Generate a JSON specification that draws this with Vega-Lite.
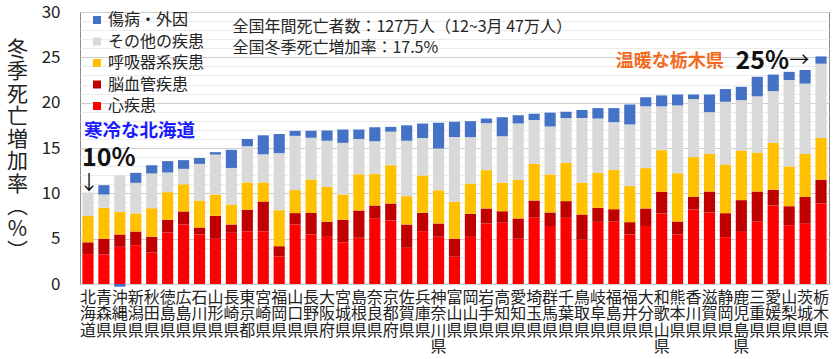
{
  "$schema": "https://vega.github.io/schema/vega-lite/v6.json",
  "width": 749,
  "height": 272,
  "autosize": {"type": "none"},
  "padding": {"left": 80, "top": 12, "right": 4, "bottom": 75},
  "background": "white",
  "config": {
    "font": "Noto Sans CJK JP",
    "view": {"stroke": "#8c8c8c", "strokeWidth": 1}
  },
  "datasets": {
    "rates": [
      {"pref": "北海道", "心疾患": 3.3, "脳血管疾患": 1.3, "呼吸器系疾患": 2.9, "その他の疾患": 2.6, "傷病・外因": 0.0},
      {"pref": "青森県", "心疾患": 3.26, "脳血管疾患": 1.72, "呼吸器系疾患": 3.42, "その他の疾患": 1.47, "傷病・外因": 1.03},
      {"pref": "沖縄県", "心疾患": 4.1, "脳血管疾患": 1.36, "呼吸器系疾患": 2.5, "その他の疾患": 4.04, "傷病・外因": -0.3},
      {"pref": "新潟県", "心疾患": 4.28, "脳血管疾患": 1.51, "呼吸器系疾患": 1.99, "その他の疾患": 3.38, "傷病・外因": 1.1},
      {"pref": "秋田県", "心疾患": 3.47, "脳血管疾患": 1.73, "呼吸器系疾患": 3.16, "その他の疾患": 3.83, "傷病・外因": 0.91},
      {"pref": "徳島県", "心疾患": 5.68, "脳血管疾患": 1.4, "呼吸器系疾患": 3.05, "その他の疾患": 2.17, "傷病・外因": 1.25},
      {"pref": "広島県", "心疾患": 6.56, "脳血管疾患": 1.44, "呼吸器系疾患": 3.0, "その他の疾患": 1.7, "傷病・外因": 0.96},
      {"pref": "石川県", "心疾患": 5.46, "脳血管疾患": 0.77, "呼吸器系疾患": 2.98, "その他の疾患": 4.04, "傷病・外因": 0.65},
      {"pref": "山形県", "心疾患": 4.98, "脳血管疾患": 2.54, "呼吸器系疾患": 2.35, "その他の疾患": 4.41, "傷病・外因": 0.26},
      {"pref": "長崎県", "心疾患": 5.65, "脳血管疾患": 0.91, "呼吸器系疾患": 2.21, "その他の疾患": 4.03, "傷病・外因": 2.0},
      {"pref": "東京都", "心疾患": 5.81, "脳血管疾患": 2.39, "呼吸器系疾患": 3.0, "その他の疾患": 4.0, "傷病・外因": 0.8},
      {"pref": "宮崎県", "心疾患": 5.81, "脳血管疾患": 3.29, "呼吸器系疾患": 2.1, "その他の疾患": 3.1, "傷病・外因": 2.1},
      {"pref": "福岡県", "心疾患": 3.05, "脳血管疾患": 1.12, "呼吸器系疾患": 3.97, "その他の疾患": 6.29, "傷病・外因": 2.11},
      {"pref": "山口県", "心疾患": 6.56, "脳血管疾患": 1.26, "呼吸器系疾患": 2.54, "その他の疾患": 5.98, "傷病・外因": 0.55},
      {"pref": "長野県", "心疾患": 5.46, "脳血管疾患": 2.37, "呼吸器系疾患": 3.7, "その他の疾患": 4.6, "傷病・外因": 0.77},
      {"pref": "大阪府", "心疾患": 5.2, "脳血管疾患": 1.66, "呼吸器系疾患": 3.84, "その他の疾患": 5.1, "傷病・外因": 1.13},
      {"pref": "宮城県", "心疾患": 4.6, "脳血管疾患": 2.48, "呼吸器系疾患": 2.79, "その他の疾患": 5.7, "傷病・外因": 1.47},
      {"pref": "島根県", "心疾患": 5.1, "脳血管疾患": 3.0, "呼吸器系疾患": 4.0, "その他の疾患": 3.9, "傷病・外因": 1.04},
      {"pref": "奈良県", "心疾患": 7.19, "脳血管疾患": 1.47, "呼吸器系疾患": 3.49, "その他の疾患": 3.6, "傷病・外因": 1.55},
      {"pref": "京都府", "心疾患": 7.0, "脳血管疾患": 1.88, "呼吸器系疾患": 4.22, "その他の疾患": 3.7, "傷病・外因": 0.53},
      {"pref": "佐賀県", "心疾患": 3.99, "脳血管疾患": 2.57, "呼吸器系疾患": 3.13, "その他の疾患": 6.11, "傷病・外因": 1.7},
      {"pref": "兵庫県", "心疾患": 5.83, "脳血管疾患": 2.02, "呼吸器系疾患": 4.12, "その他の疾患": 4.13, "傷病・外因": 1.6},
      {"pref": "神奈川県", "心疾患": 5.2, "脳血管疾患": 1.47, "呼吸器系疾患": 3.68, "その他の疾患": 4.6, "傷病・外因": 2.83},
      {"pref": "富山県", "心疾患": 3.0, "脳血管疾患": 2.0, "呼吸器系疾患": 4.06, "その他の疾患": 7.14, "傷病・外因": 1.7},
      {"pref": "岡山県", "心疾患": 5.2, "脳血管疾患": 2.54, "呼吸器系疾患": 3.34, "その他の疾患": 5.12, "傷病・外因": 1.76},
      {"pref": "岩手県", "心疾患": 6.67, "脳血管疾患": 1.66, "呼吸器系疾患": 4.23, "その他の疾患": 5.18, "傷病・外因": 0.51},
      {"pref": "高知県", "心疾患": 6.75, "脳血管疾患": 1.28, "呼吸器系疾患": 3.13, "その他の疾患": 5.14, "傷病・外因": 2.1},
      {"pref": "愛知県", "心疾患": 5.0, "脳血管疾患": 2.22, "呼吸器系疾患": 4.27, "その他の疾患": 6.21, "傷病・外因": 0.9},
      {"pref": "埼玉県", "心疾患": 7.3, "脳血管疾患": 1.9, "呼吸器系疾患": 4.05, "その他の疾患": 4.85, "傷病・外因": 0.67},
      {"pref": "群馬県", "心疾患": 6.4, "脳血管疾患": 1.49, "呼吸器系疾患": 4.19, "その他の疾患": 5.29, "傷病・外因": 1.53},
      {"pref": "千葉県", "心疾患": 7.3, "脳血管疾患": 1.84, "呼吸器系疾患": 4.23, "その他の疾患": 4.93, "傷病・外因": 0.7},
      {"pref": "鳥取県", "心疾患": 4.87, "脳血管疾患": 2.8, "呼吸器系疾患": 3.49, "その他の疾患": 7.14, "傷病・外因": 0.9},
      {"pref": "岐阜県", "心疾患": 6.86, "脳血管疾患": 1.54, "呼吸器系疾患": 3.86, "その他の疾患": 5.99, "傷病・外因": 1.15},
      {"pref": "福島県", "心疾患": 6.89, "脳血管疾患": 1.36, "呼吸器系疾患": 4.35, "その他の疾患": 5.25, "傷病・外因": 1.55},
      {"pref": "福井県", "心疾患": 5.46, "脳血管疾患": 1.36, "呼吸器系疾患": 3.98, "その他の疾患": 6.8, "傷病・外因": 2.2},
      {"pref": "大分県", "心疾患": 6.4, "脳血管疾患": 1.93, "呼吸器系疾患": 4.45, "その他の疾患": 6.82, "傷病・外因": 1.0},
      {"pref": "和歌山県", "心疾患": 7.78, "脳血管疾患": 2.39, "呼吸器系疾患": 4.59, "その他の疾患": 4.84, "傷病・外因": 1.2},
      {"pref": "熊本県", "心疾患": 5.46, "脳血管疾患": 1.43, "呼吸器系疾患": 5.33, "その他の疾患": 7.48, "傷病・外因": 1.2},
      {"pref": "香川県", "心疾患": 8.2, "脳血管疾患": 1.4, "呼吸器系疾患": 4.4, "その他の疾患": 6.4, "傷病・外因": 0.5},
      {"pref": "滋賀県", "心疾患": 7.89, "脳血管疾患": 2.31, "呼吸器系疾患": 4.15, "その他の疾患": 4.6, "傷病・外因": 1.95},
      {"pref": "静岡県", "心疾患": 5.17, "脳血管疾患": 2.64, "呼吸器系疾患": 5.37, "その他の疾患": 6.92, "傷病・外因": 1.4},
      {"pref": "鹿児島県", "心疾患": 5.75, "脳血管疾患": 3.5, "呼吸器系疾患": 5.47, "その他の疾患": 5.56, "傷病・外因": 1.47},
      {"pref": "三重県", "心疾患": 6.89, "脳血管疾患": 3.31, "呼吸器系疾患": 4.3, "その他の疾患": 6.2, "傷病・外因": 2.15},
      {"pref": "愛媛県", "心疾患": 8.66, "脳血管疾患": 1.73, "呼吸器系疾患": 5.18, "その他の疾患": 5.7, "傷病・外因": 1.83},
      {"pref": "山梨県", "心疾患": 6.49, "脳血管疾患": 2.09, "呼吸器系疾患": 4.38, "その他の疾患": 9.54, "傷病・外因": 0.9},
      {"pref": "茨城県", "心疾患": 6.64, "脳血管疾患": 2.96, "呼吸器系疾患": 4.75, "その他の疾患": 7.75, "傷病・外因": 1.5},
      {"pref": "栃木県", "心疾患": 8.88, "脳血管疾患": 2.62, "呼吸器系疾患": 4.6, "その他の疾患": 8.2, "傷病・外因": 0.8}
    ]
  },
  "layer": [
    {
      "data": {"name": "rates"},
      "mark": {"type": "bar", "opacity": 0},
      "encoding": {
        "x": {"field": "pref", "type": "nominal", "sort": null},
        "y": {
          "field": "心疾患", "type": "quantitative",
          "axis": {
            "values": [1,2,3,4,6,7,8,9,11,12,13,14,16,17,18,19,21,22,23,24,26,27,28,29],
            "labels": false, "ticks": false, "domain": false, "grid": true,
            "gridColor": "#ececec", "title": null, "orient": "left", "offset": 0
          }
        }
      }
    },
    {
      "data": {"name": "rates"},
      "transform": [
        {"fold": ["心疾患", "脳血管疾患", "呼吸器系疾患", "その他の疾患", "傷病・外因"], "as": ["cause", "value"]},
        {"window": [{"op": "row_number", "as": "stackpos"}], "groupby": ["pref"]}
      ],
      "mark": {"type": "bar"},
      "encoding": {
        "x": {
          "field": "pref", "type": "nominal", "sort": null,
          "scale": {"paddingInner": 0.3, "paddingOuter": 0.15},
          "axis": {
            "title": null, "labelAngle": 0, "labelExpr": "split(datum.label, '')",
            "labelFontSize": 16, "labelLineHeight": 16.5, "labelBaseline": "top", "labelAlign": "center",
            "bandPosition": 0.5,
            "labelPadding": 5, "ticks": false, "domain": false, "labelOverlap": false,
            "labelColor": "#222222", "grid": false
          }
        },
        "y": {
          "field": "value", "type": "quantitative", "stack": "zero",
          "scale": {"domain": [0, 30], "nice": false},
          "axis": {
            "orient": "left", "offset": 0,
            "values": [0, 5, 10, 15, 20, 25, 30],
            "ticks": false, "domain": false, "grid": true, "gridColor": "#cdcdcd",
            "labelFontSize": 17, "labelPadding": 20, "labelColor": "#222222",
            "title": ["冬", "季", "死", "亡", "増", "加", "率", "︵", "%", "︶"],
            "titleAngle": 0, "titleX": -63, "titleY": 26, "titleBaseline": "top", "titleAlign": "center",
            "titleFontSize": 21, "titleFontWeight": "normal", "titleLineHeight": 22.5, "titleColor": "#222222"
          }
        },
        "color": {
          "field": "cause", "type": "nominal",
          "scale": {
            "domain": ["傷病・外因", "その他の疾患", "呼吸器系疾患", "脳血管疾患", "心疾患"],
            "range": ["#4472C4", "#D9D9D9", "#FFC000", "#C00000", "#FF0000"]
          },
          "legend": {
            "title": null, "orient": "none", "legendX": 9, "legendY": 0,
            "symbolType": "square", "symbolSize": 64, "symbolStrokeWidth": 0,
            "labelFontSize": 16, "labelOffset": 3, "rowPadding": 5.5, "labelColor": "#222222"
          }
        },
        "order": {"field": "stackpos", "type": "quantitative", "sort": "ascending"}
      }
    },
    {
      "data": {"values": [
        {"pref": "長崎県", "y": 28.4, "note": "全国年間死亡者数：127万人（12~3月 47万人）"},
        {"pref": "長崎県", "y": 26.0, "note": "全国冬季死亡増加率：17.5%"}
      ]},
      "mark": {"type": "text", "align": "left", "baseline": "middle", "dx": 1, "fontSize": 16, "color": "#262626"},
      "encoding": {
        "x": {"field": "pref", "type": "nominal", "sort": null},
        "y": {"field": "y", "type": "quantitative", "axis": null},
        "text": {"field": "note"}
      }
    },
    {
      "data": {"values": [{"pref": "北海道", "y": 16.85, "note": "寒冷な北海道"}]},
      "mark": {"type": "text", "align": "left", "baseline": "middle", "dx": -4, "fontSize": 18.5, "fontWeight": "bold", "color": "#1a1aff"},
      "encoding": {
        "x": {"field": "pref", "type": "nominal", "sort": null},
        "y": {"field": "y", "type": "quantitative", "axis": null},
        "text": {"field": "note"}
      }
    },
    {
      "data": {"values": [{"pref": "北海道", "y": 13.95, "note": "10%"}]},
      "mark": {"type": "text", "align": "left", "baseline": "middle", "dx": -6, "fontSize": 25, "fontWeight": "bold", "color": "#111111"},
      "encoding": {
        "x": {"field": "pref", "type": "nominal", "sort": null},
        "y": {"field": "y", "type": "quantitative", "axis": null},
        "text": {"field": "note"}
      }
    },
    {
      "data": {"values": [{"pref": "北海道", "y": 11.06, "note": "↓"}]},
      "mark": {"type": "text", "align": "center", "baseline": "middle", "dx": 1, "fontSize": 20, "color": "#111111"},
      "encoding": {
        "x": {"field": "pref", "type": "nominal", "sort": null},
        "y": {"field": "y", "type": "quantitative", "axis": null},
        "text": {"field": "note"}
      }
    },
    {
      "data": {"values": [{"pref": "福島県", "y": 24.5, "note": "温暖な栃木県"}]},
      "mark": {"type": "text", "align": "left", "baseline": "middle", "dx": 2, "fontSize": 18, "fontWeight": "bold", "color": "#F26B21"},
      "encoding": {
        "x": {"field": "pref", "type": "nominal", "sort": null},
        "y": {"field": "y", "type": "quantitative", "axis": null},
        "text": {"field": "note"}
      }
    },
    {
      "data": {"values": [{"pref": "山梨県", "y": 24.55, "note": "25%"}]},
      "mark": {"type": "text", "align": "right", "baseline": "middle", "dx": 0, "fontSize": 25, "fontWeight": "bold", "color": "#111111"},
      "encoding": {
        "x": {"field": "pref", "type": "nominal", "sort": null},
        "y": {"field": "y", "type": "quantitative", "axis": null},
        "text": {"field": "note"}
      }
    },
    {
      "data": {"values": [{"pref": "山梨県", "y": 24.55, "note": "→"}]},
      "mark": {"type": "text", "align": "left", "baseline": "middle", "dx": 0, "fontSize": 20, "color": "#111111"},
      "encoding": {
        "x": {"field": "pref", "type": "nominal", "sort": null},
        "y": {"field": "y", "type": "quantitative", "axis": null},
        "text": {"field": "note"}
      }
    }
  ],
  "resolve": {"axis": {"y": "independent"}}
}
